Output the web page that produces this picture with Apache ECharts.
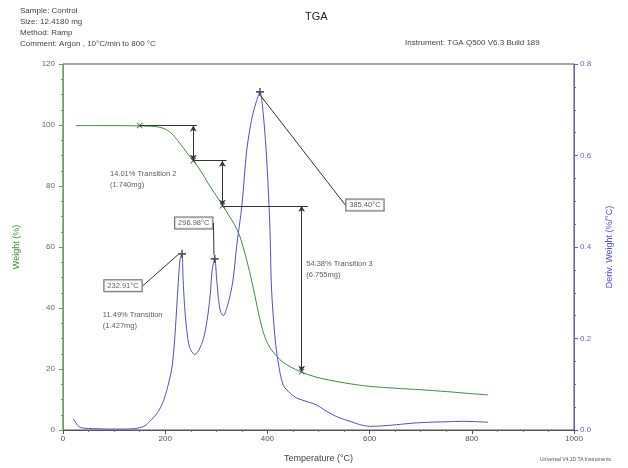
<!DOCTYPE html>
<html>
<head>
<meta charset="utf-8">
<script src="https://cdn.jsdelivr.net/npm/echarts@6/dist/echarts.min.js"></script>
<style>html,body{margin:0;padding:0;background:#fff}#c{width:628px;height:468px}</style>
</head>
<body>
<div id="c"></div>
<script>
// ---- data ----
const xTicks = [0, 200, 400, 600, 800, 1000];
const weightTicks = [0, 20, 40, 60, 80, 100, 120];
const derivTicks = [0.0, 0.2, 0.4, 0.6, 0.8];

// Weight (%) vs Temperature (°C)
const weightCurve = [
  [25,99.8],[60,99.8],[100,99.8],[150,99.7],[180,99.5],[195,99.0],[205,98.2],[215,96.8],
  [225,94.8],[235,92.6],[245,90.4],[255,88.3],[270,84.8],[285,80.6],[300,76.8],[313,73.5],
  [325,70.2],[335,67.5],[345,64.0],[355,58.5],[365,52.0],[375,44.5],[385,36.5],[395,30.5],
  [405,27.0],[418,24.2],[430,22.3],[445,20.7],[465,19.1],[490,17.6],[520,16.4],[560,15.2],
  [600,14.3],[650,13.7],[700,13.2],[750,12.6],[800,11.9],[832,11.5]
];

// Deriv. Weight (%/°C) vs Temperature (°C)
const derivCurve = [
  [20,0.024],[24,0.018],[30,0.008],[40,0.004],[60,0.003],[100,0.002],[140,0.003],[160,0.009],
  [170,0.019],[185,0.038],[196,0.062],[205,0.095],[213,0.135],[218,0.19],[222,0.258],[226,0.33],
  [229,0.372],[232.91,0.385],[235,0.33],[238,0.27],[242,0.22],[248,0.18],[258,0.165],[266,0.175],
  [275,0.2],[282,0.24],[288,0.294],[292,0.35],[296.98,0.374],[300.7,0.33],[304,0.29],[308,0.26],
  [314,0.25],[320,0.265],[327,0.294],[333,0.33],[340,0.403],[350,0.49],[359,0.606],[366,0.66],
  [372,0.693],[379,0.72],[385.4,0.739],[392,0.69],[399,0.584],[405,0.44],[408,0.31],[415,0.2],
  [421,0.149],[431,0.098],[445,0.08],[457,0.07],[475,0.063],[496,0.055],[510,0.045],[522,0.037],
  [540,0.027],[562,0.019],[580,0.012],[601,0.008],[625,0.009],[653,0.0116],[685,0.015],[718,0.017],
  [750,0.018],[783,0.019],[810,0.018],[832,0.017]
];

// Peak annotations (temperature, deriv value, label)
const peakTemps = [232.91, 296.98, 385.40];
const peakValues = [0.385, 0.374, 0.739];
const peakLabels = ['232.91°C', '296.98°C', '385.40°C'];

// Step transitions: weight levels and temperatures of the step analysis
const stepStartTemp = 150;
const stepTemps = [255, 312, 467];
const stepWeights = [99.8, 88.3, 73.5, 19.1];
const stepEndTemps = [262, 320, 479];
const stepTexts = [
  ['11.49% Transition', '(1.427mg)'],
  ['14.01% Transition 2', '(1.740mg)'],
  ['54.38% Transition 3', '(6.755mg)']
];
const stepTextAnchors = [[78, 35.9], [92, 82.2], [476, 52.8]];

// ---- layout / style (not data) ----
const peakLabelOffsets = [[-59, 32], [-21, -36], [105, 113]];
const FONT = 'Liberation Sans, Arial, sans-serif';
const green = '#3f8f3f';
const blue = '#5050c8';
const dark = '#333333';

const markLines = [];
for (let i = 0; i < stepTemps.length; i++) {
  const x0 = i === 0 ? stepStartTemp : stepTemps[i - 1];
  markLines.push([{coord: [x0, stepWeights[i]], symbol: 'none'}, {coord: [stepEndTemps[i], stepWeights[i]], symbol: 'none'}]);
  markLines.push([{coord: [stepTemps[i], stepWeights[i]], symbol: 'arrow'}, {coord: [stepTemps[i], stepWeights[i + 1]], symbol: 'arrow'}]);
}

const chart = echarts.init(document.getElementById('c'), null, {renderer: 'canvas'});
chart.setOption({
  backgroundColor: '#fff',
  animation: false,
  textStyle: {fontFamily: FONT},
  grid: {left: 63, right: 54, top: 64, bottom: 36, show: true, borderColor: '#555', borderWidth: 1},
  xAxis: {
    type: 'value', min: 0, max: 1000, interval: 200,
    name: 'Temperature (°C)', nameLocation: 'middle', nameGap: 24,
    nameTextStyle: {fontSize: 9, color: '#444', fontFamily: FONT},
    axisLine: {lineStyle: {color: '#555'}},
    axisTick: {length: 4, lineStyle: {color: '#555'}},
    minorTick: {show: true, splitNumber: 4, length: 2, lineStyle: {color: '#777'}},
    axisLabel: {fontSize: 8, color: '#555', margin: 5, formatter: v => xTicks.includes(v) ? String(v) : ''},
    splitLine: {show: false}
  },
  yAxis: [{
    type: 'value', min: 0, max: 120, interval: 20, position: 'left',
    name: 'Weight (%)', nameLocation: 'middle', nameGap: 42,
    nameTextStyle: {fontSize: 9, color: green, fontFamily: FONT},
    axisLine: {show: true, lineStyle: {color: '#5aa85a', width: 1}},
    axisTick: {show: true, length: 4, lineStyle: {color: '#5aa85a'}},
    minorTick: {show: true, splitNumber: 4, length: 2, lineStyle: {color: '#5aa85a'}},
    axisLabel: {fontSize: 8, color: '#666', margin: 8, formatter: v => weightTicks.includes(v) ? String(v) : ''},
    splitLine: {show: false}
  }, {
    type: 'value', min: 0, max: 0.8, interval: 0.2, position: 'right',
    name: 'Deriv. Weight (%/°C)', nameLocation: 'middle', nameGap: 31, nameRotate: 90,
    nameTextStyle: {fontSize: 9, color: blue, fontFamily: FONT},
    axisLine: {show: true, lineStyle: {color: '#6060c8', width: 1}},
    axisTick: {show: true, length: 4, lineStyle: {color: '#6060c8'}},
    minorTick: {show: true, splitNumber: 4, length: 2, lineStyle: {color: '#6060c8'}},
    axisLabel: {fontSize: 8, color: '#6868b8', margin: 6, formatter: v => v.toFixed(1)},
    splitLine: {show: false}
  }],
  series: [{
    name: 'Weight', type: 'line', yAxisIndex: 0, showSymbol: false, smooth: 0.3,
    data: weightCurve, lineStyle: {color: green, width: 1}, z: 3,
    markLine: {
      silent: true, symbolSize: [5, 6], precision: 2,
      lineStyle: {color: dark, width: 1, type: 'solid'},
      label: {show: false},
      data: markLines
    }
  }, {
    name: 'Deriv', type: 'line', yAxisIndex: 1, showSymbol: false, smooth: 0.3,
    data: derivCurve, lineStyle: {color: blue, width: 1}, z: 2
  }, {
    name: 'StepMarks', type: 'scatter', yAxisIndex: 0,
    symbol: 'path://M0,1L1,0L5,4L9,0L10,1L6,5L10,9L9,10L5,6L1,10L0,9L4,5Z', symbolSize: 6,
    itemStyle: {color: dark},
    data: [[stepStartTemp, stepWeights[0]]].concat(stepTemps.map((t, i) => [t, stepWeights[i + 1]])),
    z: 5
  }, {
    name: 'StepText', type: 'scatter', yAxisIndex: 0, symbolSize: 0,
    data: stepTextAnchors.map((p, i) => ({value: p, name: stepTexts[i].join('\n')})),
    label: {show: true, position: 'right', distance: 0, fontSize: 7.5, lineHeight: 11, color: '#333', fontFamily: FONT,
      formatter: p => p.name}
  }, {
    name: 'Peaks', type: 'scatter', yAxisIndex: 1,
    symbol: 'path://M4,0h2v4h4v2h-4v4h-2v-4h-4v-2h4z', symbolSize: 8,
    itemStyle: {color: dark},
    data: peakTemps.map((t, i) => ({value: [t, peakValues[i]], name: peakLabels[i]})),
    label: {show: true, position: 'inside', fontSize: 7.5, color: '#333', fontFamily: FONT,
      backgroundColor: '#fff', borderColor: '#444', borderWidth: 1, padding: [2, 3, 1, 3],
      formatter: p => p.name},
    labelLine: {show: true, lineStyle: {color: dark, width: 1}},
    labelLayout: p => ({dx: peakLabelOffsets[p.dataIndex][0], dy: peakLabelOffsets[p.dataIndex][1]}),
    z: 6
  }],
  graphic: [
    {type: 'text', left: 20, top: 5, style: {text: 'Sample: Control\nSize: 12.4180 mg\nMethod: Ramp\nComment: Argon , 10°C/min to 800 °C', font: '8px ' + FONT, lineHeight: 11, fill: '#444'}},
    {type: 'text', left: 305, top: 11, style: {text: 'TGA', font: '11px ' + FONT, fill: '#222'}},
    {type: 'text', left: 405, top: 39, style: {text: 'Instrument: TGA Q500 V6.3 Build 189', font: '8px ' + FONT, fill: '#444'}},
    {type: 'text', left: 540, top: 457, style: {text: 'Universal V4.1D TA Instruments', font: '5px ' + FONT, fill: '#555'}}
  ]
});
</script>
</body>
</html>
